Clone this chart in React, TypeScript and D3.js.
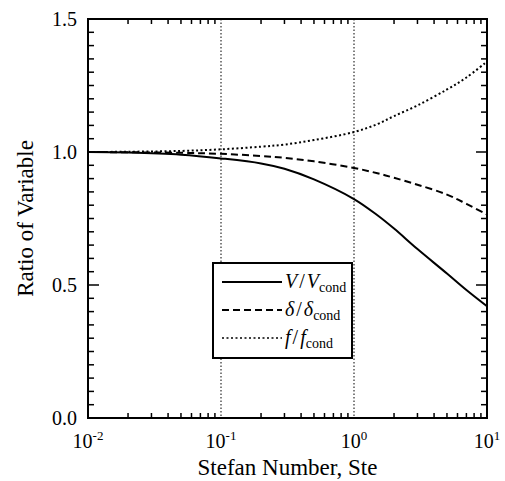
import React from "react";
import * as d3 from "d3";

const steValues = [0.01, 0.02, 0.05, 0.1, 0.2, 0.3, 0.5, 1, 1.5, 2, 3, 5, 7, 10];
const vRatio = [1.0, 0.998, 0.99, 0.976, 0.957, 0.937, 0.897, 0.823, 0.762, 0.712, 0.635, 0.543, 0.481, 0.42];
const deltaRatio = [1.0, 0.999, 0.997, 0.993, 0.985, 0.978, 0.965, 0.94, 0.92, 0.903, 0.877, 0.84, 0.805, 0.765];
const fRatio = [1.0, 1.001, 1.004, 1.01, 1.02, 1.028, 1.045, 1.075, 1.105, 1.135, 1.175, 1.235, 1.28, 1.34];
const yTicks = [0, 0.5, 1.0, 1.5];
const xDecades = [-2, -1, 0, 1];

const W = 505, H = 481;
const M = { left: 88, right: 487, top: 19, bottom: 418 };
const FONT = "'Liberation Serif', 'Times New Roman', Times, 'DejaVu Serif', serif";

export default function App() {
  const x = d3.scaleLog().domain([0.01, 10]).range([M.left, M.right]);
  const y = d3.scaleLinear().domain([0, 1.5]).range([M.bottom, M.top]);

  const mk = (vals: number[]) =>
    d3.line<number>()
      .x((_, i) => x(steValues[i]))
      .y((d) => y(d))
      .curve(d3.curveCatmullRom.alpha(0.5))(vals) as string;

  const minorX: number[] = [];
  for (let e = -2; e < 1; e++) for (let k = 2; k <= 9; k++) minorX.push(k * Math.pow(10, e));
  const minorY: number[] = d3.range(0, 31).map((i) => i * 0.05).filter((v) => Math.abs(v * 2 - Math.round(v * 2)) > 1e-6);

  const series = [
    { d: vRatio, dash: "none", main: "V", sub: "cond" },
    { d: deltaRatio, dash: "7,4", main: "δ", sub: "cond" },
    { d: fRatio, dash: "2,2.5", main: "f", sub: "cond" },
  ];

  const lg = { x: 213, y: 263, w: 139, h: 95 };

  return (
    <div style={{ fontFamily: FONT }}>
    <svg width={W} height={H} style={{ position: "absolute", left: 0, top: 0, background: "#fff" }} fontFamily="Liberation Serif">
      <rect x={0} y={0} width={W} height={H} fill="#fff" />
      {[0.1, 1].map((v) => (
        <line key={v} x1={x(v)} x2={x(v)} y1={M.top} y2={M.bottom} stroke="#000" strokeWidth={1} strokeDasharray="1.5,2" />
      ))}
      {minorX.map((v) => (
        <g key={v}>
          <line x1={x(v)} x2={x(v)} y1={M.bottom} y2={M.bottom - 5} stroke="#000" strokeWidth={1.5} />
          <line x1={x(v)} x2={x(v)} y1={M.top} y2={M.top + 5} stroke="#000" strokeWidth={1.5} />
        </g>
      ))}
      {minorY.map((v) => (
        <g key={v}>
          <line x1={M.left} x2={M.left + 6} y1={y(v)} y2={y(v)} stroke="#000" strokeWidth={1.5} />
          <line x1={M.right} x2={M.right - 6} y1={y(v)} y2={y(v)} stroke="#000" strokeWidth={1.5} />
        </g>
      ))}
      {yTicks.map((v) => (
        <g key={v}>
          <line x1={M.left} x2={M.left + 11} y1={y(v)} y2={y(v)} stroke="#000" strokeWidth={1.5} />
          <line x1={M.right} x2={M.right - 11} y1={y(v)} y2={y(v)} stroke="#000" strokeWidth={1.5} />
          <text x={77} y={y(v) + 7} textAnchor="end" fontSize={20}>{v.toFixed(1)}</text>
        </g>
      ))}
      {xDecades.map((e) => (
        <text key={e} x={x(Math.pow(10, e))} y={448} textAnchor="middle" fontSize={20}>
          10<tspan dy={-8} fontSize={13}>{e}</tspan>
        </text>
      ))}
      <rect x={M.left} y={M.top} width={M.right - M.left} height={M.bottom - M.top} fill="none" stroke="#000" strokeWidth={2} />
      {series.map((s, i) => (
        <path key={i} d={mk(s.d)} fill="none" stroke="#000" strokeWidth={2} strokeDasharray={s.dash} />
      ))}
      <rect x={lg.x} y={lg.y} width={lg.w} height={lg.h} fill="#fff" stroke="#000" strokeWidth={2} />
      {series.map((s, i) => {
        const yy = 282 + i * 28;
        return (
          <g key={i}>
            <line x1={222} x2={282} y1={yy} y2={yy} stroke="#000" strokeWidth={s.dash === "2,2.5" ? 1.5 : 2} strokeDasharray={s.dash} />
            <text x={285} y={yy + 6} fontSize={20}>
              <tspan fontStyle="italic">{s.main}</tspan>
              <tspan dx={2}>/</tspan>
              <tspan dx={2} fontStyle="italic">{s.main}</tspan>
              <tspan dy={4} fontSize={14}>{s.sub}</tspan>
            </text>
          </g>
        );
      })}
      <text x={(M.left + M.right) / 2} y={475} textAnchor="middle" fontSize={23}>Stefan Number, Ste</text>
      <text transform={`translate(33,${(M.top + M.bottom) / 2}) rotate(-90)`} textAnchor="middle" fontSize={23}>Ratio of Variable</text>
    </svg>
    </div>
  );
}
